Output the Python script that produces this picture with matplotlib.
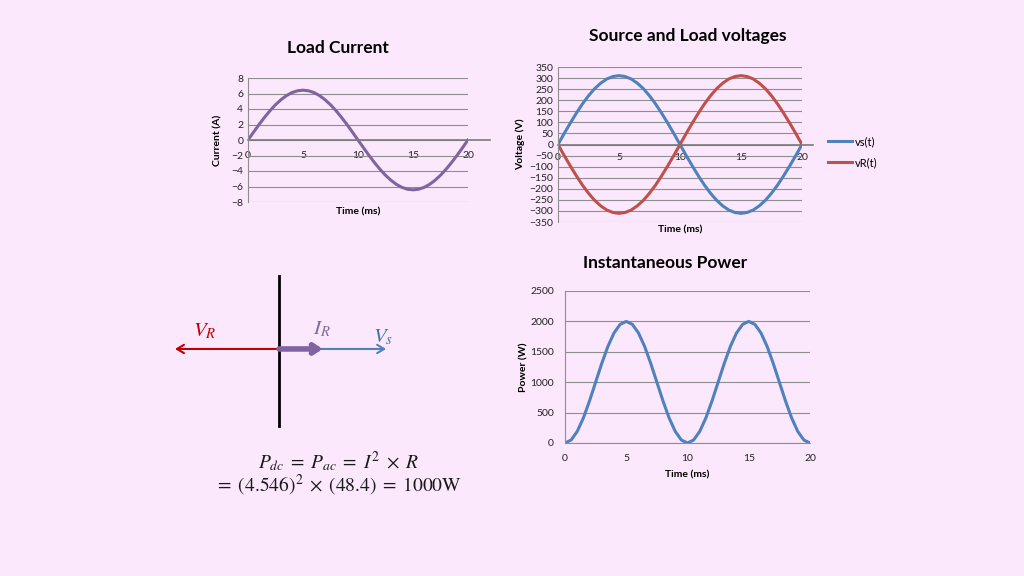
import numpy as np
import matplotlib.pyplot as plt

# time axis, ms (0.5 ms steps)
t = np.arange(0, 20.5, 0.5)

# load current (A)
i_load = [0, 1.0, 1.99, 2.92, 3.78, 4.55, 5.20, 5.73, 6.12, 6.35, 6.43,
          6.35, 6.12, 5.73, 5.20, 4.55, 3.78, 2.92, 1.99, 1.0, 0,
          -1.0, -1.99, -2.92, -3.78, -4.55, -5.20, -5.73, -6.12, -6.35, -6.43,
          -6.35, -6.12, -5.73, -5.20, -4.55, -3.78, -2.92, -1.99, -1.0, 0]

# source and load voltages (V)
vs = [0, 49, 96, 141, 183, 220, 252, 277, 296, 307, 311,
      307, 296, 277, 252, 220, 183, 141, 96, 49, 0,
      -49, -96, -141, -183, -220, -252, -277, -296, -307, -311,
      -307, -296, -277, -252, -220, -183, -141, -96, -49, 0]
vR = [0, -49, -96, -141, -183, -220, -252, -277, -296, -307, -311,
      -307, -296, -277, -252, -220, -183, -141, -96, -49, 0,
      49, 96, 141, 183, 220, 252, 277, 296, 307, 311,
      307, 296, 277, 252, 220, 183, 141, 96, 49, 0]

# instantaneous power (W)
p_inst = [0, 49, 191, 412, 691, 1000, 1309, 1588, 1809, 1951, 2000,
          1951, 1809, 1588, 1309, 1000, 691, 412, 191, 49, 0,
          49, 191, 412, 691, 1000, 1309, 1588, 1809, 1951, 2000,
          1951, 1809, 1588, 1309, 1000, 691, 412, 191, 49, 0]

x_ticks = [0, 5, 10, 15, 20]

# phasors (relative length, sign = direction)
phasor_names = ['V_R', 'I_R', 'V_s']
phasor_len = [-1.0, 0.42, 1.03]

BG = '#fce8fc'
GRID = '#8e8e8e'
PURPLE = '#8064a2'
BLUE = '#4f81bd'
RED = '#c0504d'

plt.rcParams['font.family'] = ['Lato', 'DejaVu Sans']
plt.rcParams['mathtext.fontset'] = 'stix'

fig = plt.figure(figsize=(10.24, 5.76), dpi=100, facecolor=BG)
W, H = 1024, 576


def px_axes(left, top, right, bottom):
    return fig.add_axes([left / W, 1 - bottom / H, (right - left) / W, (bottom - top) / H])


def style(ax):
    ax.set_facecolor('none')
    for s in ['top', 'right']:
        ax.spines[s].set_visible(False)
    ax.spines['left'].set_color(GRID)
    ax.spines['left'].set_linewidth(0.8)
    ax.tick_params(length=0, labelsize=7.5, colors='#222222')
    ax.grid(axis='y', color=GRID, linewidth=0.8)
    ax.set_axisbelow(True)


# ---- Load current ----
ax1 = px_axes(248, 78, 468, 202)
style(ax1)
ax1.plot(t, i_load, color=PURPLE, linewidth=2.2)
ax1.set_xlim(0, 20)
ax1.set_ylim(-8, 8)
ax1.set_yticks(range(-8, 9, 2))
ax1.set_xticks(x_ticks)
ax1.spines['bottom'].set_visible(False)
ax1.axhline(0, xmin=0, xmax=1.1, color='#7a7a7a', linewidth=1.2, clip_on=False)
ax1.tick_params(axis='x', pad=8)
for lab in ax1.get_xticklabels():
    lab.set_y(0.5)
ax1.set_xlabel('Time (ms)', fontsize=7.5, fontweight='bold')
ax1.set_ylabel('Current (A)', fontsize=7.5, fontweight='bold')
ax1.xaxis.set_label_coords(0.5, -0.04)
ax1.yaxis.set_label_coords(-0.114, 0.5)
fig.text(338 / W, 1 - 48 / H, 'Load Current', ha='center', va='center',
         fontsize=12.5, fontweight='bold')

# ---- Source and load voltages ----
ax2 = px_axes(558, 67, 802, 222)
style(ax2)
ax2.plot(t, vs, color=BLUE, linewidth=2.2, label='vs(t)')
ax2.plot(t, vR, color=RED, linewidth=2.2, label='vR(t)')
ax2.set_xlim(0, 20)
ax2.set_ylim(-350, 350)
ax2.set_yticks(range(-350, 351, 50))
ax2.set_xticks(x_ticks)
ax2.spines['bottom'].set_visible(False)
ax2.axhline(0, xmin=0, xmax=1.045, color='#7a7a7a', linewidth=1.2, clip_on=False)
for lab in ax2.get_xticklabels():
    lab.set_y(0.5)
ax2.tick_params(axis='x', pad=6)
ax2.set_xlabel('Time (ms)', fontsize=7.5, fontweight='bold')
ax2.set_ylabel('Voltage (V)', fontsize=7.5, fontweight='bold')
ax2.xaxis.set_label_coords(0.5, -0.02)
ax2.yaxis.set_label_coords(-0.135, 0.5)
ax2.legend(loc='center left', bbox_to_anchor=(818 / W, 1 - 152 / H),
           bbox_transform=fig.transFigure, frameon=False, fontsize=8,
           handlelength=2.2, handletextpad=0.2, labelspacing=0.9)
fig.text(688 / W, 1 - 36 / H, 'Source and Load voltages', ha='center', va='center',
         fontsize=12.5, fontweight='bold')

# ---- Instantaneous power ----
ax3 = px_axes(565, 291, 810, 443)
style(ax3)
ax3.plot(t, p_inst, color=BLUE, linewidth=2.2)
ax3.set_xlim(0, 20)
ax3.set_ylim(0, 2500)
ax3.set_yticks(range(0, 2501, 500))
ax3.set_xticks(x_ticks)
ax3.spines['bottom'].set_color(GRID)
ax3.spines['bottom'].set_linewidth(0.8)
ax3.tick_params(axis='x', pad=8)
ax3.tick_params(axis='y', pad=8)
ax3.set_xlabel('Time (ms)', fontsize=7.5, fontweight='bold')
ax3.set_ylabel('Power (W)', fontsize=7.5, fontweight='bold')
ax3.xaxis.set_label_coords(0.5, -0.18)
ax3.yaxis.set_label_coords(-0.151, 0.5)
fig.text(665 / W, 1 - 263 / H, 'Instantaneous Power', ha='center', va='center',
         fontsize=12.5, fontweight='bold')

# ---- Phasor diagram ----
ax4 = px_axes(149, 268, 409, 432)
ax4.set_xlim(-1.25, 1.25)
ax4.set_ylim(-0.8, 0.78)
ax4.axis('off')
ax4.plot([0, 0], [-0.74, 0.70], color='black', linewidth=2)
ph_col = {'V_R': '#c00000', 'I_R': PURPLE, 'V_s': BLUE}
ph_txt = {'V_R': '#c00000', 'I_R': '#7a6e96', 'V_s': '#3f6fa8'}
ph_lw = {'V_R': 1.5, 'I_R': 4, 'V_s': 1.5}
ph_head = {'V_R': 'head_length=0.5,head_width=0.3',
           'I_R': 'head_length=0.45,head_width=0.3',
           'V_s': 'head_length=0.5,head_width=0.3'}
ph_lab = {'V_R': (-0.71, 0.17), 'I_R': (0.41, 0.19), 'V_s': (1.0, 0.12)}
for name, ln in zip(phasor_names, phasor_len):
    ax4.annotate('', xy=(ln, 0), xytext=(0, 0),
                 arrowprops=dict(arrowstyle='->,' + ph_head[name],
                                 color=ph_col[name], lw=ph_lw[name],
                                 shrinkA=0, shrinkB=0),
                 zorder=3 if name == 'I_R' else 2)
    lx, ly = ph_lab[name]
    ax4.text(lx, ly, '$' + name + '$', color=ph_txt[name], fontsize=15,
             ha='center', va='center')

# ---- equation ----
fig.text(338 / W, 1 - 462 / H, r'$P_{dc}\;=\;P_{ac}\;=\;I^2\;\times\;R$',
         ha='center', va='center', fontsize=14, color='#1a1a1a')
fig.text(338 / W, 1 - 485 / H, r'$=\;(4.546)^2\;\times\;(48.4)\;=\;1000\mathrm{W}$',
         ha='center', va='center', fontsize=14, color='#1a1a1a')

fig.savefig('out.png', dpi=100, facecolor=BG)
